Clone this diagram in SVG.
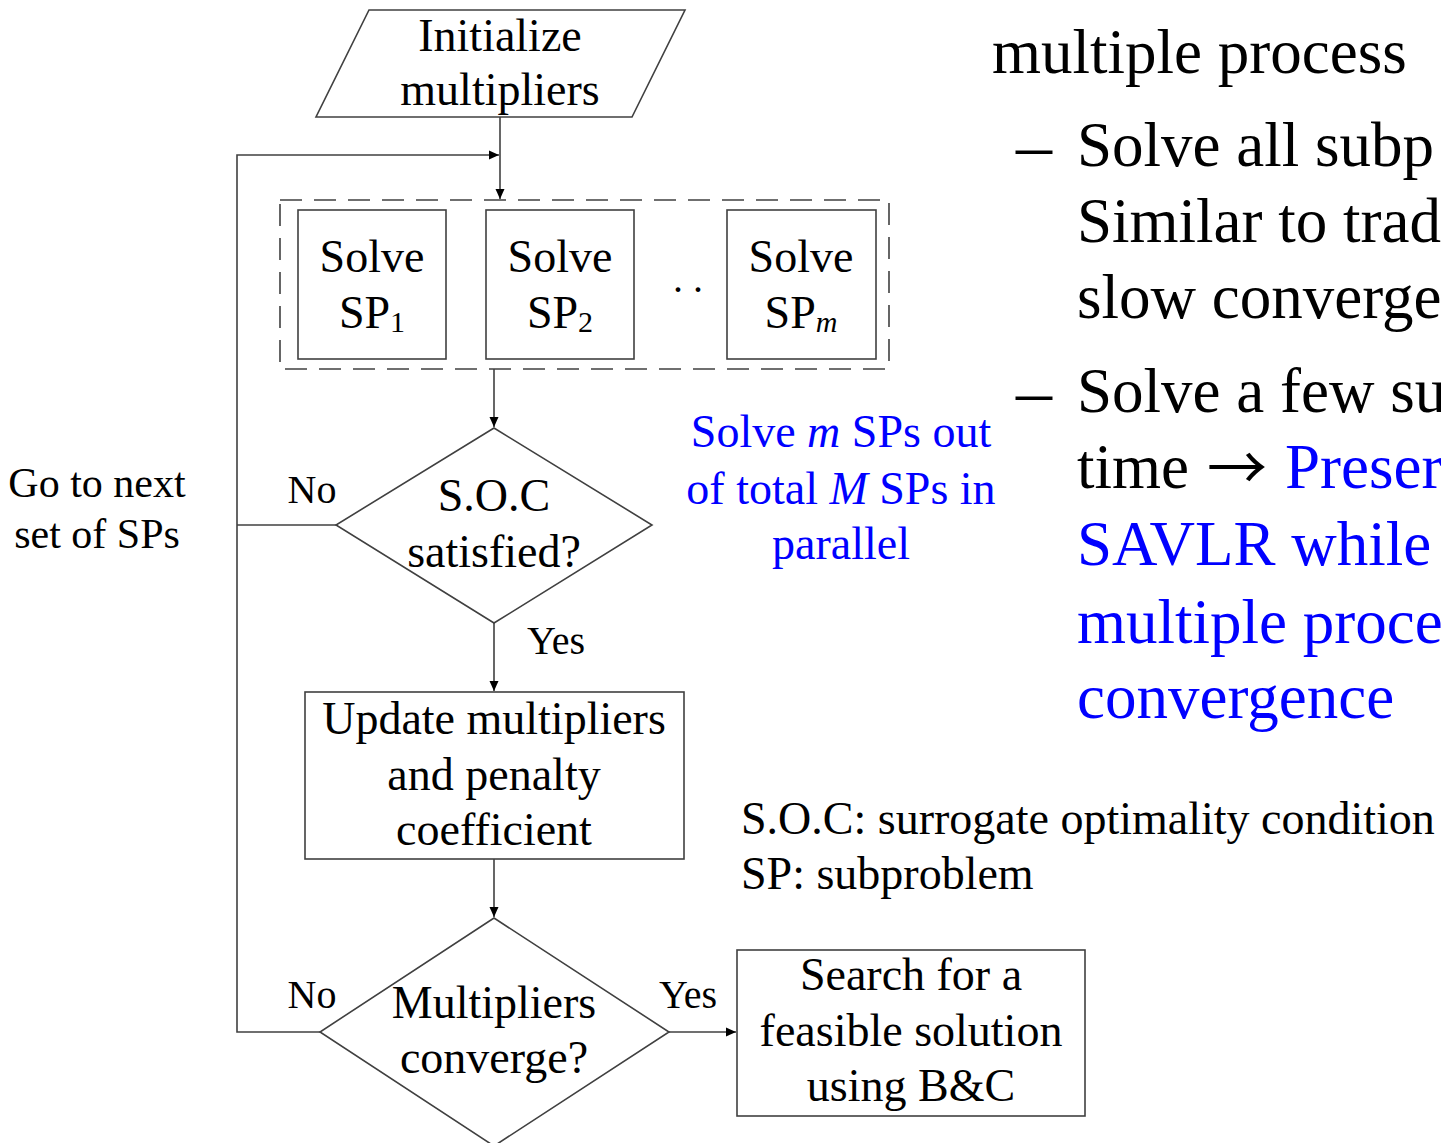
<svg xmlns="http://www.w3.org/2000/svg" width="1441" height="1143" viewBox="0 0 1441 1143">
  <style>
    .shape { fill: #ffffff; stroke: #404040; stroke-width: 1.6; }
    .dash { fill: none; stroke: #404040; stroke-width: 1.6; stroke-dasharray: 22 12; }
    .wire { fill: none; stroke: #404040; stroke-width: 1.6; }
    .t { font-family: "Liberation Serif", "Times New Roman", serif; font-size: 46px; fill: #000000; text-anchor: middle; }
    .lbl { font-family: "Liberation Serif", "Times New Roman", serif; font-size: 40px; fill: #000000; text-anchor: middle; }
    .side { font-family: "Liberation Serif", "Times New Roman", serif; font-size: 42px; fill: #000000; text-anchor: middle; }
    .note { font-family: "Liberation Serif", "Times New Roman", serif; font-size: 46px; fill: #0000ff; text-anchor: middle; }
    .legend { font-family: "Liberation Serif", "Times New Roman", serif; font-size: 46px; fill: #000000; }
    .body { font-family: "Liberation Serif", "Times New Roman", serif; font-size: 63px; fill: #000000; }
    .hl { fill: #0000ff; }
    .sub { font-size: 30px; }
    .it { font-style: italic; }
    .arr { font-family: "Noto Sans CJK SC", "DejaVu Sans", sans-serif; font-size: 60px; }
    .bullet { font-size: 72px; }
  </style>
  <defs>
    <marker id="arrow" viewBox="0 0 10 10" refX="10" refY="5" markerWidth="10" markerHeight="10" markerUnits="userSpaceOnUse" orient="auto">
      <path d="M0,0.5 L10,5 L0,9.5 Z" fill="#000000"/>
    </marker>
  </defs>

  <!-- connectors -->
  <g id="connectors">
    <path class="wire" d="M500,117 V199" marker-end="url(#arrow)"/>
    <path class="wire" d="M320,1032 H237 V155 H499" marker-end="url(#arrow)"/>
    <path class="wire" d="M336,525 H237"/>
    <path class="wire" d="M494,369 V427" marker-end="url(#arrow)"/>
    <path class="wire" d="M494,623 V691" marker-end="url(#arrow)"/>
    <path class="wire" d="M494,859 V917" marker-end="url(#arrow)"/>
    <path class="wire" d="M669,1032 H736" marker-end="url(#arrow)"/>
  </g>

  <!-- start: initialize multipliers -->
  <g id="init">
    <polygon class="shape" points="369,10 685,10 632,117 316,117"/>
    <text class="t" x="500" y="51">Initialize</text>
    <text class="t" x="500" y="105">multipliers</text>
  </g>

  <!-- parallel block of subproblems -->
  <g id="parallel-block">
    <rect class="dash" x="280" y="200" width="609" height="169"/>
  </g>
  <g id="sp1">
    <rect class="shape" x="298" y="210" width="148" height="149"/>
    <text class="t" x="372" y="272">Solve</text>
    <text class="t" x="372" y="328">SP<tspan class="sub" dy="4">1</tspan></text>
  </g>
  <g id="sp2">
    <rect class="shape" x="486" y="210" width="148" height="149"/>
    <text class="t" x="560" y="272">Solve</text>
    <text class="t" x="560" y="328">SP<tspan class="sub" dy="4">2</tspan></text>
  </g>
  <g id="ellipsis">
    <text class="lbl" x="688" y="292">. .</text>
  </g>
  <g id="spm">
    <rect class="shape" x="727" y="210" width="149" height="149"/>
    <text class="t" x="801" y="272">Solve</text>
    <text class="t" x="801" y="328">SP<tspan class="sub it" dy="4">m</tspan></text>
  </g>

  <!-- decision: surrogate optimality condition -->
  <g id="soc">
    <polygon class="shape" points="494,428 652,525 494,623 336,525"/>
    <text class="t" x="494" y="511">S.O.C</text>
    <text class="t" x="494" y="567">satisfied?</text>
  </g>

  <!-- update step -->
  <g id="update">
    <rect class="shape" x="305" y="692" width="379" height="167"/>
    <text class="t" x="494" y="734">Update multipliers</text>
    <text class="t" x="494" y="790">and penalty</text>
    <text class="t" x="494" y="845">coefficient</text>
  </g>

  <!-- decision: convergence -->
  <g id="converge">
    <polygon class="shape" points="494,918 669,1032 494,1146 320,1032"/>
    <text class="t" x="494" y="1018">Multipliers</text>
    <text class="t" x="494" y="1073">converge?</text>
  </g>

  <!-- final search -->
  <g id="search">
    <rect class="shape" x="737" y="950" width="348" height="166"/>
    <text class="t" x="911" y="990">Search for a</text>
    <text class="t" x="911" y="1046">feasible solution</text>
    <text class="t" x="911" y="1101">using B&amp;C</text>
  </g>

  <!-- branch labels -->
  <g id="labels">
    <text class="lbl" x="312" y="503">No</text>
    <text class="lbl" x="556" y="654">Yes</text>
    <text class="lbl" x="312" y="1008">No</text>
    <text class="lbl" x="688" y="1008">Yes</text>
    <text class="side" x="97" y="497">Go to next</text>
    <text class="side" x="97" y="548">set of SPs</text>
  </g>

  <!-- annotation -->
  <g id="note">
    <text class="note" x="841" y="447">Solve <tspan class="it">m</tspan> SPs out</text>
    <text class="note" x="841" y="504">of total <tspan class="it">M</tspan> SPs in</text>
    <text class="note" x="841" y="559">parallel</text>
  </g>

  <!-- abbreviations -->
  <g id="legend">
    <text class="legend" x="741" y="834">S.O.C: surrogate optimality condition</text>
    <text class="legend" x="741" y="889">SP: subproblem</text>
  </g>

  <!-- bullet text -->
  <g id="bullets">
    <text class="body" x="992" y="73">multiple process</text>
    <text class="body bullet" x="1016" y="169">–</text>
    <text class="body" x="1077" y="166">Solve all subp</text>
    <text class="body" x="1077" y="242">Similar to trad</text>
    <text class="body" x="1077" y="318">slow converge</text>
    <text class="body bullet" x="1016" y="415">–</text>
    <text class="body" x="1077" y="412">Solve a few su</text>
    <text class="body" x="1077" y="488">time <tspan class="arr" x="1207" y="490">→</tspan> <tspan class="hl" x="1285" y="488">Preser</tspan></text>
    <text class="body hl" x="1077" y="565">SAVLR while</text>
    <text class="body hl" x="1077" y="643">multiple proce</text>
    <text class="body hl" x="1077" y="718">convergence</text>
  </g>
</svg>
